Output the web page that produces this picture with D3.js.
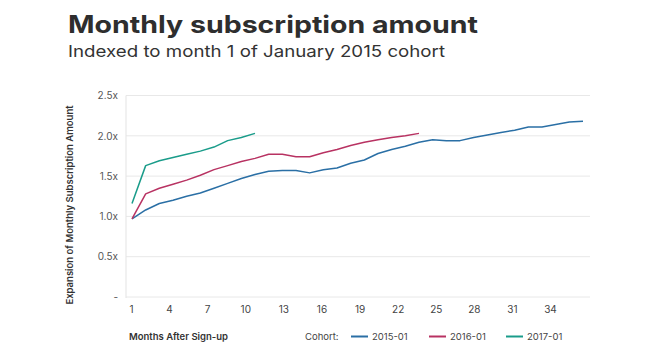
<!DOCTYPE html>
<html>
<head>
<meta charset="utf-8">
<script src="https://cdn.jsdelivr.net/npm/d3@7"></script>
<style>
  body { margin: 0; background: #fff; }
  svg { display: block; font-family: Inter, "DejaVu Sans", sans-serif; }
</style>
</head>
<body>
<div id="chart"></div>
<script>
// Data
var months = d3.range(1, 35);
var tickLabels = [1, 4, 7, 10, 13, 16, 19, 22, 25, 28, 31, 34];
var yTicks = [0, 0.5, 1.0, 1.5, 2.0, 2.5];
var cohorts = ["2015-01", "2016-01", "2017-01"];
var colors = ["#2a6fa5", "#b83262", "#1a9c8a"];

var cohort2015 = [0.97, 1.08, 1.16, 1.20, 1.25, 1.29, 1.35, 1.41, 1.47, 1.52, 1.56,
  1.57, 1.57, 1.54, 1.58, 1.60, 1.66, 1.70, 1.78, 1.83, 1.87, 1.92, 1.95, 1.94,
  1.94, 1.98, 2.01, 2.04, 2.07, 2.11, 2.11, 2.14, 2.17, 2.18];
var cohort2016 = [0.97, 1.28, 1.35, 1.40, 1.45, 1.51, 1.58, 1.63, 1.68, 1.72, 1.77,
  1.77, 1.74, 1.74, 1.79, 1.83, 1.88, 1.92, 1.95, 1.98, 2.00, 2.03];
var cohort2017 = [1.16, 1.63, 1.69, 1.73, 1.77, 1.81, 1.86, 1.94, 1.98, 2.03];

var series = [cohort2015, cohort2016, cohort2017];

var width = 660, height = 351;

var svg = d3.select("#chart").append("svg")
  .attr("width", width)
  .attr("height", height);

// Title (the original face is wide, so stretch to its width)
svg.append("text")
  .attr("x", 68).attr("y", 33)
  .attr("fill", "#2e2e2e")
  .attr("textLength", 410)
  .attr("lengthAdjust", "spacingAndGlyphs")
  .style("font-size", "24px")
  .style("font-weight", 700)
  .text("Monthly subscription amount");

svg.append("text")
  .attr("x", 68).attr("y", 57)
  .attr("fill", "#333")
  .attr("textLength", 377)
  .attr("lengthAdjust", "spacingAndGlyphs")
  .style("font-size", "16.5px")
  .text("Indexed to month 1 of January 2015 cohort");

// Scales
var x = d3.scaleLinear().domain([1, 34]).range([132, 583]);
var y = d3.scaleLinear().domain([0, 2.5]).range([297, 95.5]);
// tick labels sit on their own, slightly tighter spacing
var xLabels = d3.scalePoint().domain(tickLabels).range([131, 550]);

// Gridlines
svg.append("g")
  .selectAll("line")
  .data(yTicks)
  .enter().append("line")
  .attr("x1", 126).attr("x2", 590)
  .attr("y1", function(d){ return y(d); })
  .attr("y2", function(d){ return y(d); })
  .attr("stroke", "#e8e8e8")
  .attr("stroke-width", 1);

svg.append("line")
  .attr("x1", 126).attr("x2", 126)
  .attr("y1", y(2.5)).attr("y2", y(0) + 1)
  .attr("stroke", "#e3e3e3");

// Y axis
var yAxis = d3.axisLeft(y)
  .tickValues(yTicks)
  .tickSize(0)
  .tickPadding(0)
  .tickFormat(function(d){ return d === 0 ? "-" : d3.format(".1f")(d) + "x"; });

var gy = svg.append("g")
  .attr("transform", "translate(118,0)")
  .call(yAxis);
gy.select(".domain").remove();
gy.selectAll("text")
  .attr("fill", "#555")
  .style("font-size", "10px")
  .style("font-family", "Inter, sans-serif");

// X axis labels
var xAxis = d3.axisBottom(xLabels).tickSize(0).tickPadding(0);
var gx = svg.append("g")
  .attr("transform", "translate(0,306)")
  .call(xAxis);
gx.select(".domain").remove();
gx.selectAll("text")
  .attr("fill", "#444")
  .style("font-size", "10px")
  .style("font-family", "Inter, sans-serif");

// Y axis title
svg.append("text")
  .attr("transform", "translate(73,205)rotate(-90)")
  .attr("text-anchor", "middle")
  .attr("fill", "#333")
  .style("font-size", "9.5px")
  .style("font-weight", 600)
  .text("Expansion of Monthly Subscription Amount");

// Lines
var line = d3.line()
  .x(function(d, i){ return x(months[i]); })
  .y(function(d){ return y(d); });

svg.append("g")
  .selectAll("path")
  .data(series)
  .enter().append("path")
  .attr("d", line)
  .attr("fill", "none")
  .attr("stroke", function(d, i){ return colors[i]; })
  .attr("stroke-width", 1.5)
  .attr("stroke-linejoin", "round");

// Bottom labels and legend
svg.append("text")
  .attr("x", 129).attr("y", 340)
  .attr("fill", "#333")
  .style("font-size", "9.5px")
  .style("font-weight", 600)
  .text("Months After Sign-up");

svg.append("text")
  .attr("x", 305).attr("y", 340)
  .attr("fill", "#444")
  .style("font-size", "9.5px")
  .text("Cohort:");

var legendX = [351, 429, 506];
var legend = svg.append("g")
  .selectAll("g")
  .data(cohorts)
  .enter().append("g")
  .attr("transform", function(d, i){ return "translate(" + legendX[i] + ",336.5)"; });

legend.append("line")
  .attr("x1", 0).attr("x2", 17)
  .attr("stroke", function(d, i){ return colors[i]; })
  .attr("stroke-width", 2);

legend.append("text")
  .attr("x", 21).attr("y", 3.5)
  .attr("fill", "#444")
  .style("font-size", "9.5px")
  .text(function(d){ return d; });
</script>
</body>
</html>
